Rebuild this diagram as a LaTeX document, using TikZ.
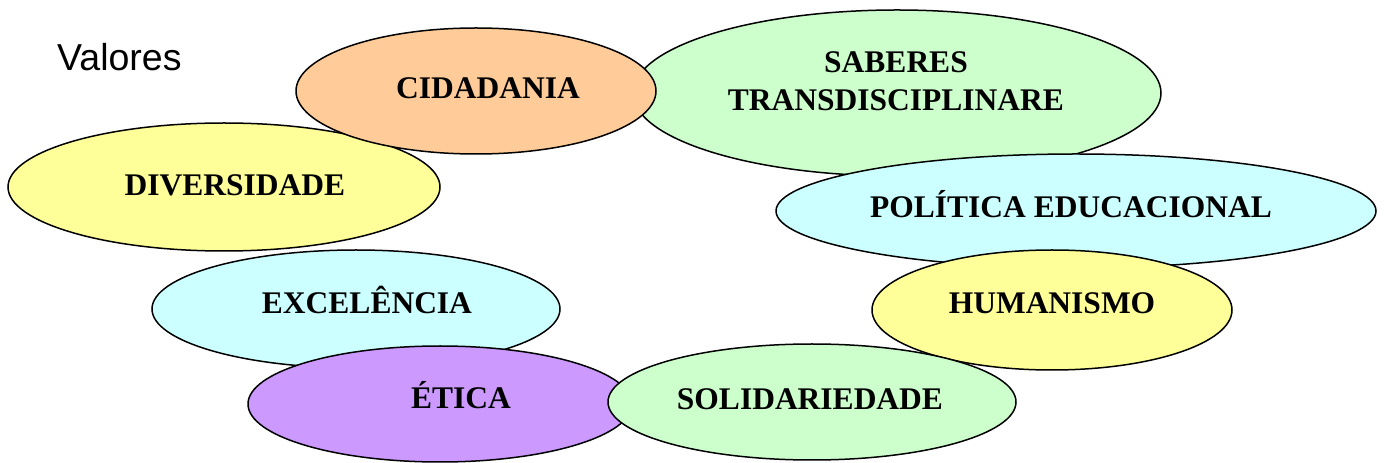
\documentclass[tikz,border=0pt]{standalone}
\usepackage{fontspec}
\setmainfont{Liberation Serif}
\newfontfamily\arialf{Liberation Sans}
\definecolor{corange}{HTML}{FFCC99}
\definecolor{cgreen}{HTML}{CCFFCC}
\definecolor{cyellow}{HTML}{FFFF99}
\definecolor{ccyan}{HTML}{CCFFFF}
\definecolor{cpurple}{HTML}{CC99FF}
\begin{document}
\begin{tikzpicture}[x=1pt,y=1pt,
  oval/.style={draw=black,line width=1.5pt},
  lbl/.style={font=\fontsize{31.5}{34}\selectfont\bfseries,inner sep=0pt,anchor=base,align=center}]
\useasboundingbox (0,0) rectangle (1384,463);
% ellipses (drawn in stacking order)
\draw[oval,fill=cyellow] (224,276) ellipse (216 and 64);
\draw[oval,fill=cgreen] (897,370) ellipse (264 and 83);
\draw[oval,fill=corange] (476,372) ellipse (180 and 63);
\draw[oval,fill=ccyan] (1076,252) ellipse (300 and 57);
\draw[oval,fill=cyellow] (1052,153) ellipse (180 and 60);
\draw[oval,fill=ccyan] (356,154) ellipse (204 and 59);
\draw[oval,fill=cpurple] (440,59) ellipse (192 and 58);
\draw[oval,fill=cgreen] (812,61) ellipse (204 and 58);
% labels
\node[font=\arialf\fontsize{37.5}{42}\selectfont,inner sep=0pt,anchor=base west] (valores) at (57,392) {Valores};
\node[lbl] (cidadania) at (488,364.5) {CIDADANIA};
\node[lbl] (saberes1) at (896,390.5) {SABERES};
\node[lbl] (saberes2) at (896,352.5) {TRANSDISCIPLINARE};
\node[lbl] (diversidade) at (235,267.5) {DIVERSIDADE};
\node[lbl] (politica) at (1071,245.5) {POLÍTICA EDUCACIONAL};
\node[lbl] (humanismo) at (1052,149.5) {HUMANISMO};
\node[lbl] (excelencia) at (367,149.5) {EXCELÊNCIA};
\node[lbl] (etica) at (461,54.5) {ÉTICA};
\node[lbl] (solidariedade) at (810,53.5) {SOLIDARIEDADE};
\end{tikzpicture}
\end{document}
